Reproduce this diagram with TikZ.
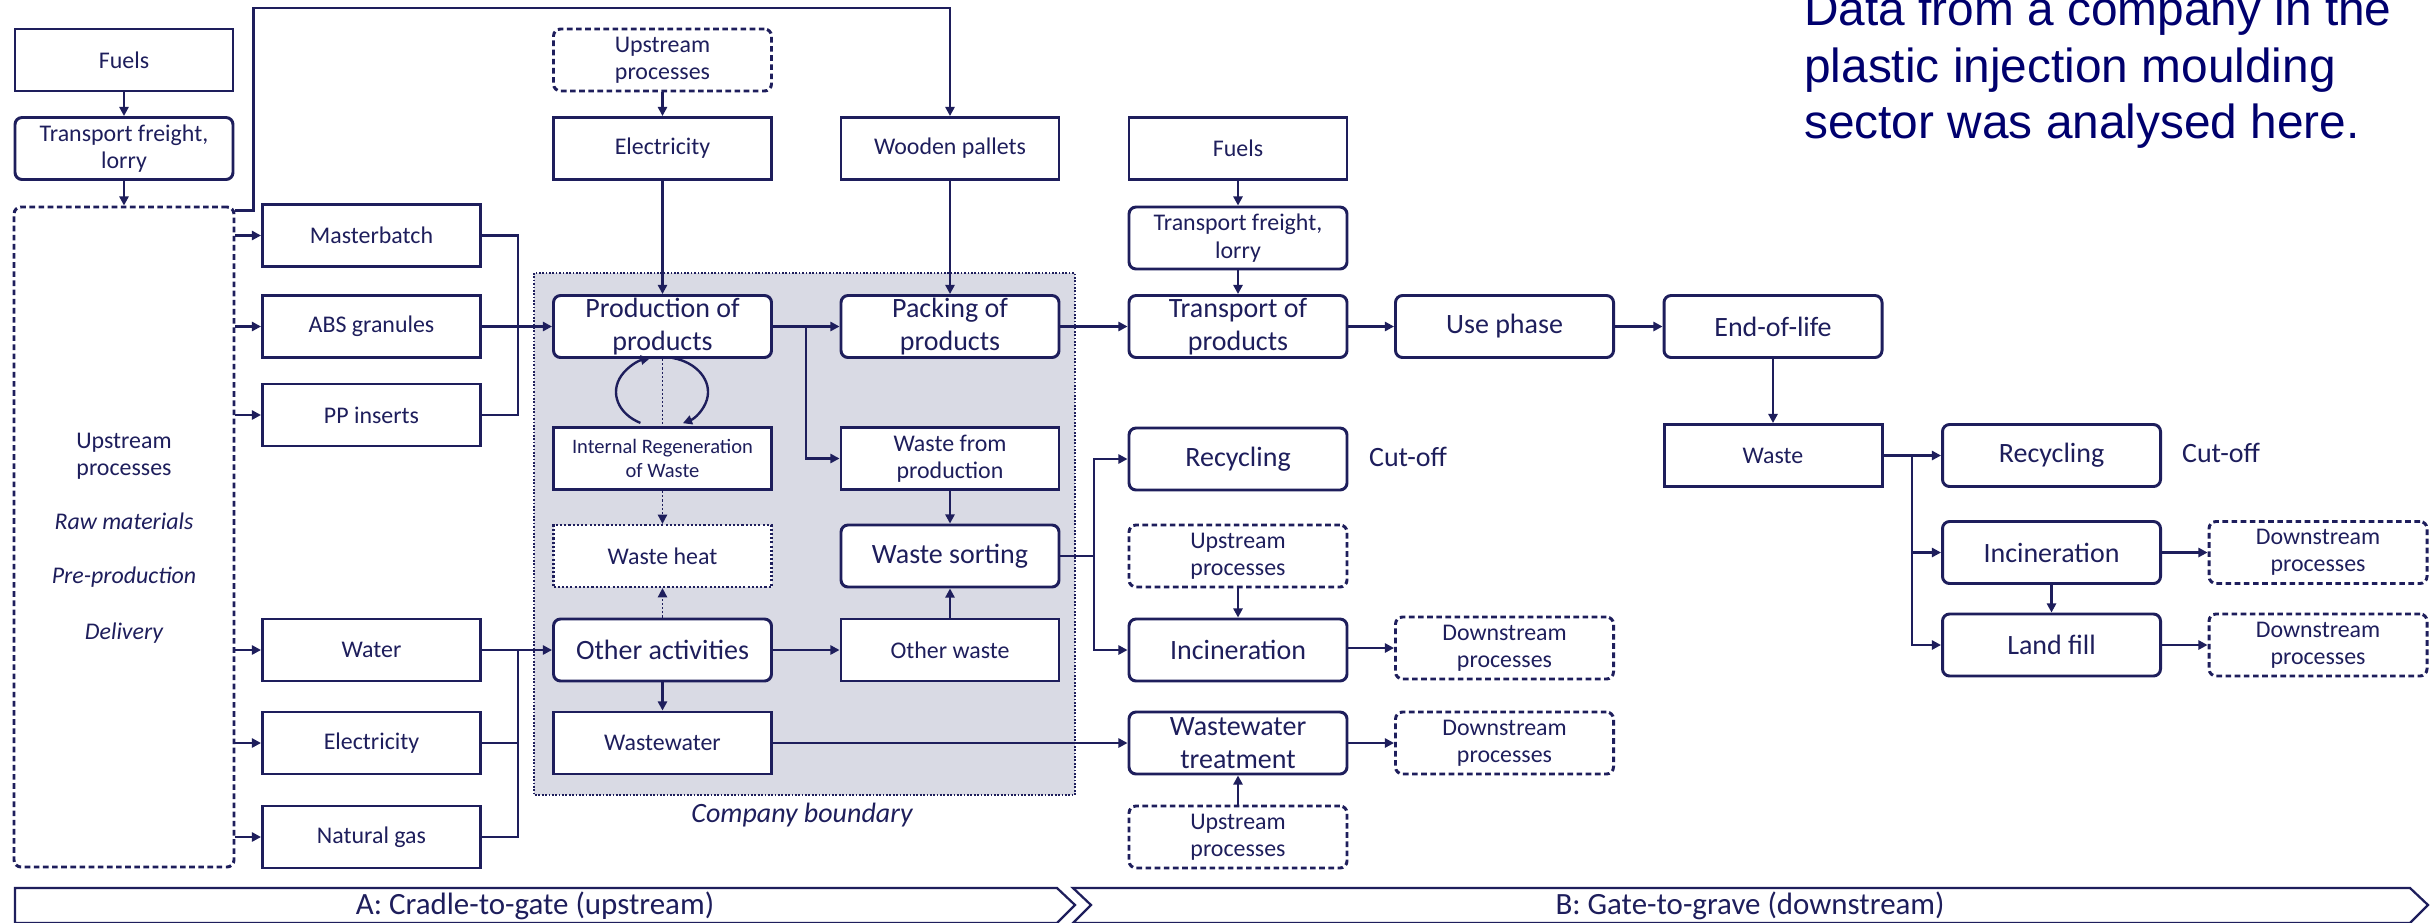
\documentclass[tikz,border=0pt]{standalone}
\usepackage{fontspec}
\setmainfont{Carlito}
\newfontfamily\arialf{Liberation Sans}
\usetikzlibrary{arrows.meta,calc}
\definecolor{navy}{RGB}{30,30,92}
\definecolor{txtblue}{RGB}{0,0,110}
\definecolor{bgray}{RGB}{217,218,228}
\newcommand{\fsmall}{\fontsize{17}{19.5}\selectfont}
\newcommand{\flarge}{\fontsize{19.9}{23.5}\selectfont}
\newcommand{\ftiny}{\fontsize{14.6}{16.5}\selectfont}
\newcommand{\fbar}{\fontsize{22}{26}\selectfont}
\begin{document}
\begin{tikzpicture}[x=0.025cm,y=-0.025cm,
  bx/.style={draw=navy, line width=2.1pt, fill=white, text=navy, align=center, inner sep=0pt,
             minimum width=218*0.025cm, minimum height=62*0.025cm},
  rbx/.style={bx, rounded corners=5pt},
  dbx/.style={rbx, dash pattern=on 4pt off 2.5pt},
  tbx/.style={bx, dash pattern=on 1.5pt off 1.5pt, line width=1.6pt},
  fsm/.style={font=\fsmall}, flg/.style={font=\flarge},
  ln/.style={draw=navy, line width=1.7pt},
  arr/.style={ln, -{Triangle[length=6.5pt,width=6.5pt]}},
  darr/.style={arr, dash pattern=on 1.5pt off 1.5pt, line width=1.3pt},
  lbl/.style={text=navy, inner sep=0pt, align=center}
]
\clip (0,0) rectangle (2430,922);
\fill[white] (0,0) rectangle (2430,922);

% company boundary
\draw[fill=bgray, draw=navy, line width=1.3pt, dash pattern=on 1.2pt off 1.2pt] (534,273) rectangle (1075,795);
\node[lbl, font=\flarge\itshape] (cbl) at (802,815) {Company boundary};

% column A
\node[bx, fsm] (fuelsL) at (124,60) {Fuels};
\node[rbx, fsm] (trL) at (124,148.5) {Transport freight,\\lorry};
\node[dbx, minimum width=220*0.025cm, minimum height=660*0.025cm] (up) at (124,537) {};
\node[lbl, fsm] (uptxt) at (124,456) {Upstream\\processes};
\node[lbl, font=\fsmall\itshape] (raw) at (124,521) {Raw materials};
\node[lbl, font=\fsmall\itshape] (pre) at (124,577) {Pre-production};
\node[lbl, font=\fsmall\itshape] (del) at (124,633) {Delivery};

% column B
\node[bx, fsm] (mb) at (371.5,235.5) {Masterbatch};
\node[bx, fsm] (abs) at (371.5,326.5) {ABS granules};
\node[bx, fsm] (pp) at (371.5,415) {PP inserts};
\node[bx, fsm] (water) at (371.5,650) {Water};
\node[bx, fsm] (elecL) at (371.5,743) {Electricity};
\node[bx, fsm] (gas) at (371.5,837) {Natural gas};

% column C
\node[dbx, fsm] (upT) at (662.5,60) {Upstream\\processes};
\node[bx, fsm] (elecT) at (662.5,148.5) {Electricity};
\node[rbx, flg] (prod) at (662.5,326.5) {Production of\\products};
\node[bx, font=\ftiny] (ir) at (662.5,458.5) {Internal Regeneration\\of Waste};
\node[tbx, fsm] (wh) at (662.5,556) {Waste heat};
\node[rbx, flg] (oth) at (662.5,650) {Other activities};
\node[bx, fsm] (wwi) at (662.5,743) {Wastewater};

% column D
\node[bx, fsm] (wp) at (950,148.5) {Wooden pallets};
\node[rbx, flg] (pack) at (950,326.5) {Packing of\\products};
\node[bx, fsm] (wfp) at (950,458.5) {Waste from\\production};
\node[rbx, flg] (ws) at (950,556) {Waste sorting};
\node[bx, fsm] (ow) at (950,650) {Other waste};

% column E
\node[bx, fsm] (fuelsR) at (1238,148.5) {Fuels};
\node[rbx, fsm] (trR) at (1238,238) {Transport freight,\\lorry};
\node[rbx, flg] (top) at (1238,326.5) {Transport of\\products};
\node[rbx, flg] (recM) at (1238,459) {Recycling};
\node[lbl, flg] (cutM) at (1408,457) {Cut-off};
\node[dbx, fsm] (upM) at (1238,556) {Upstream\\processes};
\node[rbx, flg] (incM) at (1238,650) {Incineration};
\node[rbx, flg] (wwt) at (1238,743) {Wastewater\\treatment};
\node[dbx, fsm] (upB) at (1238,837) {Upstream\\processes};

% column F
\node[rbx, flg] (use) at (1504.5,326.5) {Use phase};
\node[dbx, fsm] (dsM1) at (1504.5,648) {Downstream\\processes};
\node[dbx, fsm] (dsM2) at (1504.5,743) {Downstream\\processes};

% column G
\node[rbx, flg] (eol) at (1773,326.5) {End-of-life};
\node[bx, fsm] (waste) at (1773,455.5) {Waste};

% column H, I
\node[rbx, flg] (recR) at (2051.5,455.5) {Recycling};
\node[lbl, flg] (cutR) at (2221,453) {Cut-off};
\node[rbx, flg] (incR) at (2051.5,552.5) {Incineration};
\node[rbx, flg] (lf) at (2051.5,645) {Land fill};
\node[dbx, fsm] (dsR1) at (2318,552.5) {Downstream\\processes};
\node[dbx, fsm] (dsR2) at (2318,645) {Downstream\\processes};

% helper coordinates
\coordinate (busL) at (518,0);
\coordinate (topy) at (0,8);
\coordinate (brx) at (806,0);
\coordinate (bM) at (1094,0);
\coordinate (bR) at (1912,0);

% connectors column A/B
\draw[arr] (fuelsL) -- (trL);
\draw[arr] (trL) -- (up);
\foreach \n in {mb,abs,pp,water,elecL,gas}{\draw[arr] (up.east |- \n.west) -- (\n.west);}
\draw[ln] (mb.east) -| (busL |- pp.east) -- (pp.east);
\draw[arr] (abs) -- (prod);
\draw[ln] (gas.east) -| (busL |- water.east);
\draw[ln] (elecL.east) -- (busL |- elecL.east);
\draw[arr] (water) -- (oth);
\draw[arr] ($(up.north east)+(0,5)$) -- ++(18,0) |- (wp.north |- topy) -- (wp.north);

% column C/D
\draw[arr] (upT) -- (elecT);
\draw[arr] (elecT) -- (prod);
\draw[arr] (wp) -- (pack);
\draw[arr] (prod) -- (pack);
\draw[arr] (brx |- prod.east) |- (wfp.west);
\draw[ln, dash pattern=on 1.5pt off 1.5pt, line width=1.3pt] (prod) -- (ir);
\draw[arr] (662,392) ++(118:46 and 35) arc[start angle=118, end angle=255, x radius=46, y radius=35];
\draw[arr] (662,392) ++(283:46 and 35) arc[start angle=283, end angle=423, x radius=46, y radius=35];
\draw[darr] (ir) -- (wh);
\draw[darr] (oth) -- (wh);
\draw[arr] (oth) -- (wwi);
\draw[arr] (oth) -- (ow);
\draw[arr] (wfp) -- (ws);
\draw[arr] (ow) -- (ws);

% column E and further
\draw[arr] (pack) -- (top);
\draw[arr] (fuelsR) -- (trR);
\draw[arr] (trR) -- (top);
\draw[arr] (top) -- (use);
\draw[arr] (use) -- (eol);
\draw[arr] (eol) -- (waste);
\draw[ln] (ws.east) -- (bM |- ws.east);
\draw[arr] (bM |- ws.east) |- (recM.west);
\draw[arr] (bM |- ws.east) |- (incM.west);
\draw[arr] (upM) -- (incM);
\draw[arr] (incM.east |- dsM1.west) -- (dsM1.west);
\draw[arr] (wwi) -- (wwt);
\draw[arr] (wwt) -- (dsM2);
\draw[arr] (upB) -- (wwt);
\draw[arr] (waste) -- (recR);
\draw[arr] (bR |- waste.east) |- (incR.west);
\draw[arr] (bR |- waste.east) |- (lf.west);
\draw[arr] (incR) -- (lf);
\draw[arr] (incR) -- (dsR1);
\draw[arr] (lf) -- (dsR2);

% text top right
\node[anchor=base west, inner sep=0pt, text=txtblue, font=\arialf\fontsize{34}{40}\selectfont] (d1) at (1804,25) {Data from a company in the};
\node[anchor=base west, inner sep=0pt, text=txtblue, font=\arialf\fontsize{34}{40}\selectfont] (d2) at (1804,82) {plastic injection moulding};
\node[anchor=base west, inner sep=0pt, text=txtblue, font=\arialf\fontsize{34}{40}\selectfont] (d3) at (1804,138) {sector was analysed here.};

% bottom bars
\draw[draw=navy, line width=1.6pt, fill=white] (15,888) -- (1057,888) -- (1075,905) -- (1057,923) -- (15,923) -- cycle;
\draw[draw=navy, line width=1.6pt, fill=white] (1073,888) -- (2410,888) -- (2428,905) -- (2410,923) -- (1073,923) -- (1091,905) -- cycle;
\node[lbl, font=\fbar, anchor=base] (barA) at (535,914) {A: Cradle-to-gate (upstream)};
\node[lbl, font=\fbar, anchor=base] (barB) at (1750,914) {B: Gate-to-grave (downstream)};
\end{tikzpicture}
\end{document}
